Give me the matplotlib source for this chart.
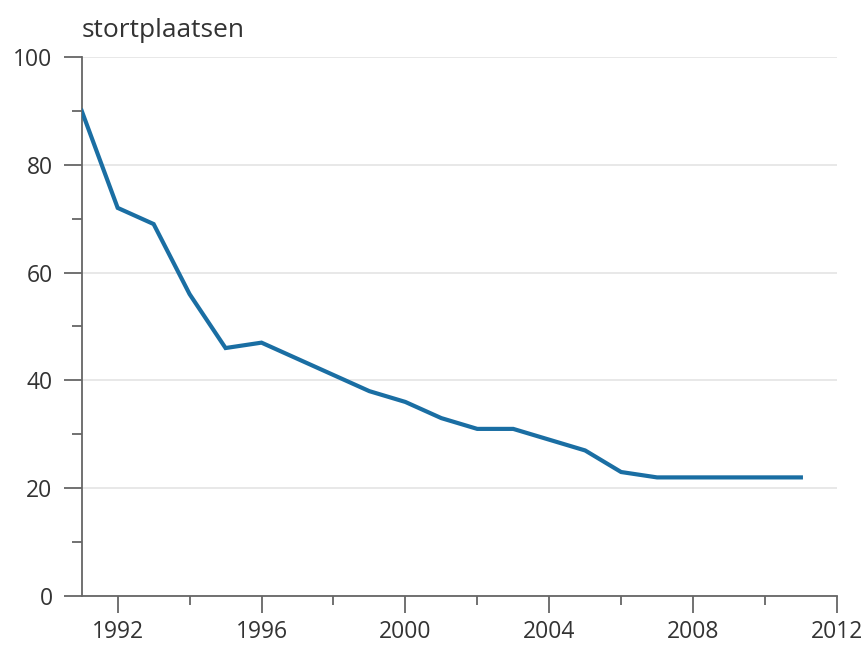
import matplotlib
matplotlib.use("Agg")
import matplotlib.pyplot as plt
from matplotlib.ticker import MultipleLocator

years = [1991, 1992, 1993, 1994, 1995, 1996, 1997, 1998, 1999, 2000, 2001,
         2002, 2003, 2004, 2005, 2006, 2007, 2008, 2009, 2010, 2011]
stortplaatsen = [90, 72, 69, 56, 46, 47, 44, 41, 38, 36, 33,
                 31, 31, 29, 27, 23, 22, 22, 22, 22, 22]
x_ticks = [1992, 1996, 2000, 2004, 2008, 2012]
y_ticks = [0, 20, 40, 60, 80, 100]
y_label = "stortplaatsen"

plt.rcParams['font.family'] = ['Open Sans', 'DejaVu Sans']

fig = plt.figure(figsize=(8.62, 6.51), dpi=100)
ax = fig.add_axes([0.0948, 0.0845, 0.876, 0.828])

ax.plot(years, stortplaatsen, color='#1a6ea3', linewidth=3.0, solid_joinstyle='miter', zorder=3)

ax.set_xlim(1991, 2012)
ax.set_ylim(0, 100)
ax.set_xticks(x_ticks)
ax.set_yticks(y_ticks)
ax.xaxis.set_minor_locator(MultipleLocator(2))
ax.yaxis.set_minor_locator(MultipleLocator(10))

ax.grid(axis='y', which='major', color='#e4e4e4', linewidth=1.2, zorder=0)
for s in ['top', 'right']:
    ax.spines[s].set_visible(False)
for s in ['left', 'bottom']:
    ax.spines[s].set_color('#666666')
    ax.spines[s].set_linewidth(1.3)

ax.tick_params(axis='both', which='major', direction='out', width=1.3,
               color='#666666', labelsize=16.5, labelcolor='#333333')
ax.tick_params(axis='both', which='minor', direction='out', width=1.3,
               color='#666666')
ax.tick_params(axis='x', which='major', length=12.5, pad=5)
ax.tick_params(axis='x', which='minor', length=6.5)
ax.tick_params(axis='y', which='major', length=13, pad=8)
ax.tick_params(axis='y', which='minor', length=7.2)

fig.text(0.0948, 0.943, y_label, fontsize=19, color='#333333', ha='left', va='baseline')

fig.savefig('out.png', dpi=100)
